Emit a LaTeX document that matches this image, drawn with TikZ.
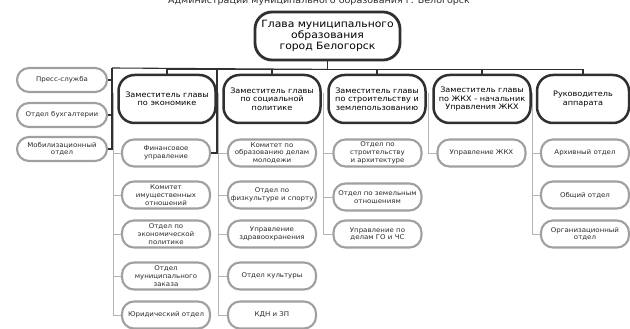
\documentclass[tikz,border=0pt]{standalone}
\usepackage{fontspec}
\setmainfont{DejaVu Sans}[FakeStretch=1.08]
\definecolor{dk}{HTML}{303030}
\definecolor{gr}{HTML}{A0A0A0}
\definecolor{lg}{HTML}{B4B4B4}
\definecolor{txt}{HTML}{2A2A2A}
\tikzset{
  headbox/.style={draw=dk, line width=2.8pt, rounded corners=17pt, fill=white,
    minimum width=145pt, minimum height=48pt, align=center, text=black,
    font=\fontsize{10}{8.8}\selectfont, inner sep=1pt},
  depbox/.style={draw=dk, line width=2.5pt, rounded corners=16pt, fill=white,
    minimum width=97pt, minimum height=48pt, align=center, text=black,
    font=\fontsize{7.5}{8.3}\selectfont, inner sep=1pt},
  subbox/.style={draw=gr, line width=2.1pt, rounded corners=12pt, fill=white,
    minimum width=88pt, minimum height=27pt, align=center, text=txt,
    font=\fontsize{6.5}{7.8}\selectfont, inner sep=1pt},
  leftbox/.style={subbox, minimum width=90pt, minimum height=24pt},
  busline/.style={draw=dk, line width=1.1pt},
  feedline/.style={draw=lg, line width=0.7pt},
}
\begin{document}
\begin{tikzpicture}[x=1pt,y=-1pt]
\useasboundingbox (0,0) rectangle (630,329);
\node (title) [anchor=base, text=txt, font=\fontsize{8.8}{10}\selectfont] at (319,3.6)
  {Администрации муниципального образования г. Белогорск};

% coordinates on the bus
\coordinate (busL) at (112,68);
\coordinate (finc) at (217,68);

\def\rA{153}\def\rB{195}\def\rC{234}\def\rD{276}\def\rE{315}

% head
\node (head) [headbox] at (327.5,36) {Глава муниципального\\образования\\город Белогорск};

% deputies
\node (d1) [depbox] at (167,99) {Заместитель главы\\по экономике};
\node (d2) [depbox] at (272,99) {Заместитель главы\\по социальной\\политике};
\node (d3) [depbox] at (377,99) {Заместитель главы\\по строительству и\\землепользованию};
\node (d4) [depbox] at (482,99) {Заместитель главы\\по ЖКХ - начальник\\Управления ЖКХ};
\node (d5) [depbox, minimum width=92pt] at (583,99) {Руководитель\\аппарата};

% left column
\node (l1) [leftbox] at (62,80) {Пресс-служба};
\node (l2) [leftbox] at (62,115) {Отдел бухгалтерии};
\node (l3) [leftbox] at (62,149) {Мобилизационный\\отдел};

% subordinate units
\node (a1) [subbox] at (166,\rA) {Финансовое\\управление};
\node (a2) [subbox] at (166,\rB) {Комитет\\имущественных\\отношений};
\node (a3) [subbox] at (166,\rC) {Отдел по\\экономической\\политике};
\node (a4) [subbox] at (166,\rD) {Отдел\\муниципального\\заказа};
\node (a5) [subbox] at (166,\rE) {Юридический отдел};

\node (b1) [subbox] at (272,\rA) {Комитет по\\образованию делам\\молодежи};
\node (b2) [subbox] at (272,\rB) {Отдел по\\физкультуре и спорту};
\node (b3) [subbox] at (272,\rC) {Управление\\здравоохранения};
\node (b4) [subbox] at (272,\rD) {Отдел культуры};
\node (b5) [subbox] at (272,\rE) {КДН и ЗП};

\node (c1) [subbox] at (377.5,\rA) {Отдел по\\строительству\\и архитектуре};
\node (c2) [subbox] at (377.5,197) {Отдел по земельным\\отношениям};
\node (c3) [subbox] at (377.5,\rC) {Управление по\\делам ГО и ЧС};

\node (e1) [subbox] at (481.5,\rA) {Управление ЖКХ};

\node (f1) [subbox] at (585,\rA) {Архивный отдел};
\node (f2) [subbox] at (585,\rB) {Общий отдел};
\node (f3) [subbox] at (585,\rC) {Организационный\\отдел};

% gray feeds from deputies to their units
\foreach \d/\s in {d1/a1,d1/a2,d1/a3,d1/a4,d1/a5,
                   d2/b1,d2/b2,d2/b3,d2/b4,d2/b5,
                   d3/c1,d3/c2,d3/c3,
                   d4/e1,
                   d5/f1,d5/f2,d5/f3}
  \draw[feedline] ([xshift=-3.5pt,yshift=6pt]\d.west) |- (\s.west);

% dark bus
\draw[busline] (head.south) -- ++(0,8) coordinate (hb);
\draw[busline] (busL) -- (hb);
\foreach \d in {d1,d2,d3,d4,d5}
  \draw[busline] (\d.north) |- (hb);
\foreach \l in {l1,l2,l3}
  \draw[busline] (\l.east) -| (busL);
\draw[busline] (a1.east) -| (finc);
\end{tikzpicture}
\end{document}
